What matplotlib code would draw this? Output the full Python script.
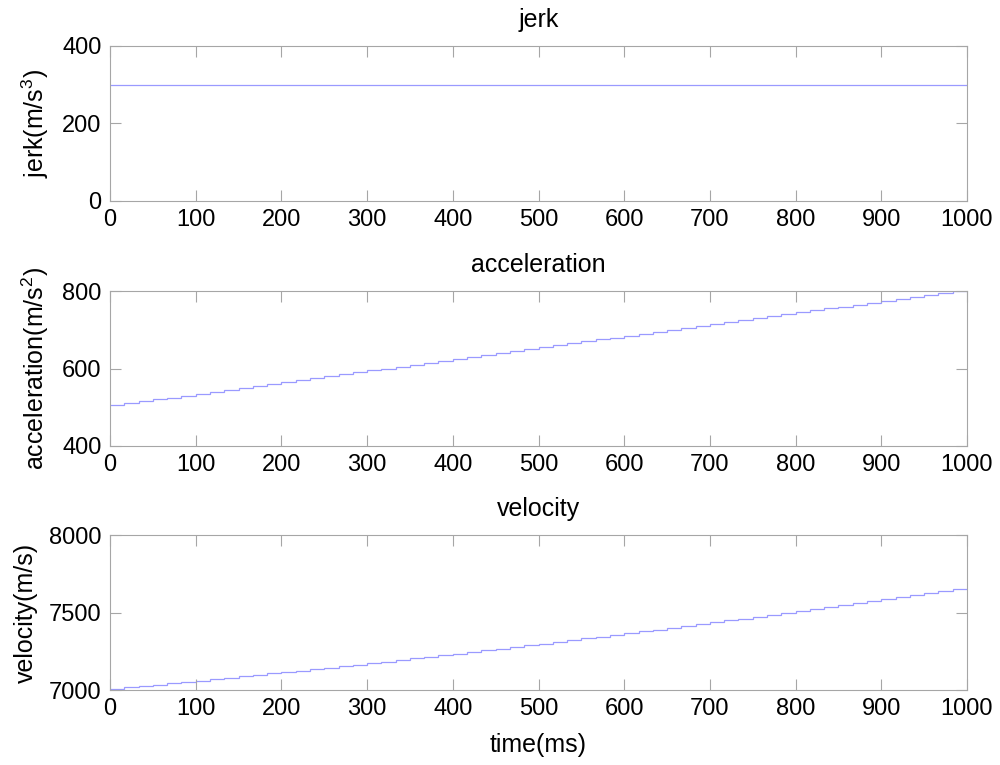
import matplotlib.pyplot as plt

plt.rcParams['font.family'] = ['Liberation Sans', 'DejaVu Sans']
plt.rcParams['mathtext.fontset'] = 'custom'
plt.rcParams['mathtext.rm'] = 'Liberation Sans'

# 数据
jerk_t = [0, 1000]
jerk = [300, 300]

# 台阶边界 (ms)
edges = [0, 16.7, 33.3, 50, 66.7, 83.3, 100, 116.7, 133.3, 150, 166.7, 183.3,
         200, 216.7, 233.3, 250, 266.7, 283.3, 300, 316.7, 333.3, 350, 366.7, 383.3,
         400, 416.7, 433.3, 450, 466.7, 483.3, 500, 516.7, 533.3, 550, 566.7, 583.3,
         600, 616.7, 633.3, 650, 666.7, 683.3, 700, 716.7, 733.3, 750, 766.7, 783.3,
         800, 816.7, 833.3, 850, 866.7, 883.3, 900, 916.7, 933.3, 950, 966.7, 983.3,
         1000]

acc = [505, 510, 515, 520, 525, 530, 535, 540, 545, 550, 555, 560,
       565, 570, 575, 580, 585, 590, 595, 600, 605, 610, 615, 620,
       625, 630, 635, 640, 645, 650, 655, 660, 665, 670, 675, 680,
       685, 690, 695, 700, 705, 710, 715, 720, 725, 730, 735, 740,
       745, 750, 755, 760, 765, 770, 775, 780, 785, 790, 795, 800]

vel = [7008, 7017, 7026, 7034, 7043, 7052, 7061, 7070, 7079, 7088, 7097, 7107,
       7116, 7125, 7135, 7145, 7154, 7164, 7174, 7184, 7194, 7204, 7215, 7225,
       7235, 7246, 7257, 7267, 7278, 7289, 7300, 7311, 7322, 7333, 7344, 7356,
       7367, 7378, 7390, 7402, 7413, 7425, 7437, 7449, 7461, 7473, 7486, 7498,
       7510, 7523, 7536, 7548, 7561, 7574, 7587, 7600, 7613, 7626, 7639, 7653]

line_color = '#9a9aff'
grey = '#a6a6a6'

fig = plt.figure(figsize=(10, 7.65), dpi=100)
ax1 = fig.add_axes([0.11, 0.7373, 0.857, 0.2026])
ax2 = fig.add_axes([0.11, 0.4170, 0.857, 0.2026])
ax3 = fig.add_axes([0.11, 0.0980, 0.857, 0.2026])

ax1.plot(jerk_t, jerk, color=line_color, linewidth=0.9)
ax2.stairs(acc, edges, color=line_color, linewidth=0.9, baseline=None)
ax3.stairs(vel, edges, color=line_color, linewidth=0.9, baseline=None)

ax1.set_ylim(0, 400)
ax1.set_yticks([0, 200, 400])
ax2.set_ylim(400, 800)
ax2.set_yticks([400, 600, 800])
ax3.set_ylim(7000, 8000)
ax3.set_yticks([7000, 7500, 8000])

ax1.set_title('jerk', fontsize=18, pad=14)
ax2.set_title('acceleration', fontsize=18, pad=14)
ax3.set_title('velocity', fontsize=18, pad=14)

ax1.set_ylabel('jerk(m/s$^3$)', fontsize=18, labelpad=8)
ax2.set_ylabel('acceleration(m/s$^2$)', fontsize=18, labelpad=8)
ax3.set_ylabel('velocity(m/s)', fontsize=18, labelpad=8)
ax3.set_xlabel('time(ms)', fontsize=18, labelpad=9)

for ax in (ax1, ax2, ax3):
    ax.set_xlim(0, 1000)
    ax.set_xticks(range(0, 1001, 100))
    ax.tick_params(direction='in', length=8, width=0.8, color=grey,
                   labelsize=17, top=True, right=True, pad=6)
    for s in ax.spines.values():
        s.set_color(grey)
        s.set_linewidth(0.8)

plt.savefig('out.png', dpi=100)
